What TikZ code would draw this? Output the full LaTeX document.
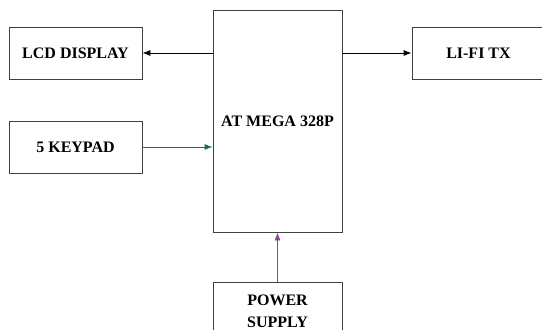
\documentclass[tikz,border=0pt]{standalone}
\usepackage{fontspec}
\setmainfont{Liberation Serif}
\usepackage{tikz}
\usetikzlibrary{arrows.meta,positioning}

\definecolor{keygreen}{RGB}{30,110,70}
\definecolor{pwrpurple}{RGB}{140,70,150}

\tikzset{
  blockbox/.style={draw=black!75,line width=0.8pt,fill=white,align=center,
    font=\fontsize{16}{22}\selectfont\bfseries,inner sep=0pt},
  link/.style={->,line width=0.8pt}
}

\begin{document}
\begin{tikzpicture}[>={Latex[length=8pt,width=6pt]},x=1pt,y=-1pt]
\useasboundingbox (0,0) rectangle (542,330);

\node[blockbox,minimum width=129pt,minimum height=222pt] (mcu) at (277.5,121) {AT MEGA 328P};
\node[blockbox,minimum width=133pt,minimum height=52pt] (lcd) at (75.5,53) {LCD DISPLAY};
\node[blockbox,minimum width=133pt,minimum height=52pt] (keypad) at (75.5,147) {5 KEYPAD};
\node[blockbox,minimum width=133pt,minimum height=52pt] (lifi) at (478.5,53) {LI-FI TX};
\node[blockbox,minimum width=129pt,minimum height=58pt] (power) at (277.5,311) {POWER\\SUPPLY};

\draw[link] (mcu.west |- lcd) -- (lcd.east);
\draw[link] (mcu.east |- lifi) -- (lifi.west);
\draw[link,keygreen] (keypad.east) -- (mcu.west |- keypad);
\draw[link,pwrpurple] (power.north) -- (mcu.south);
\end{tikzpicture}
\end{document}
